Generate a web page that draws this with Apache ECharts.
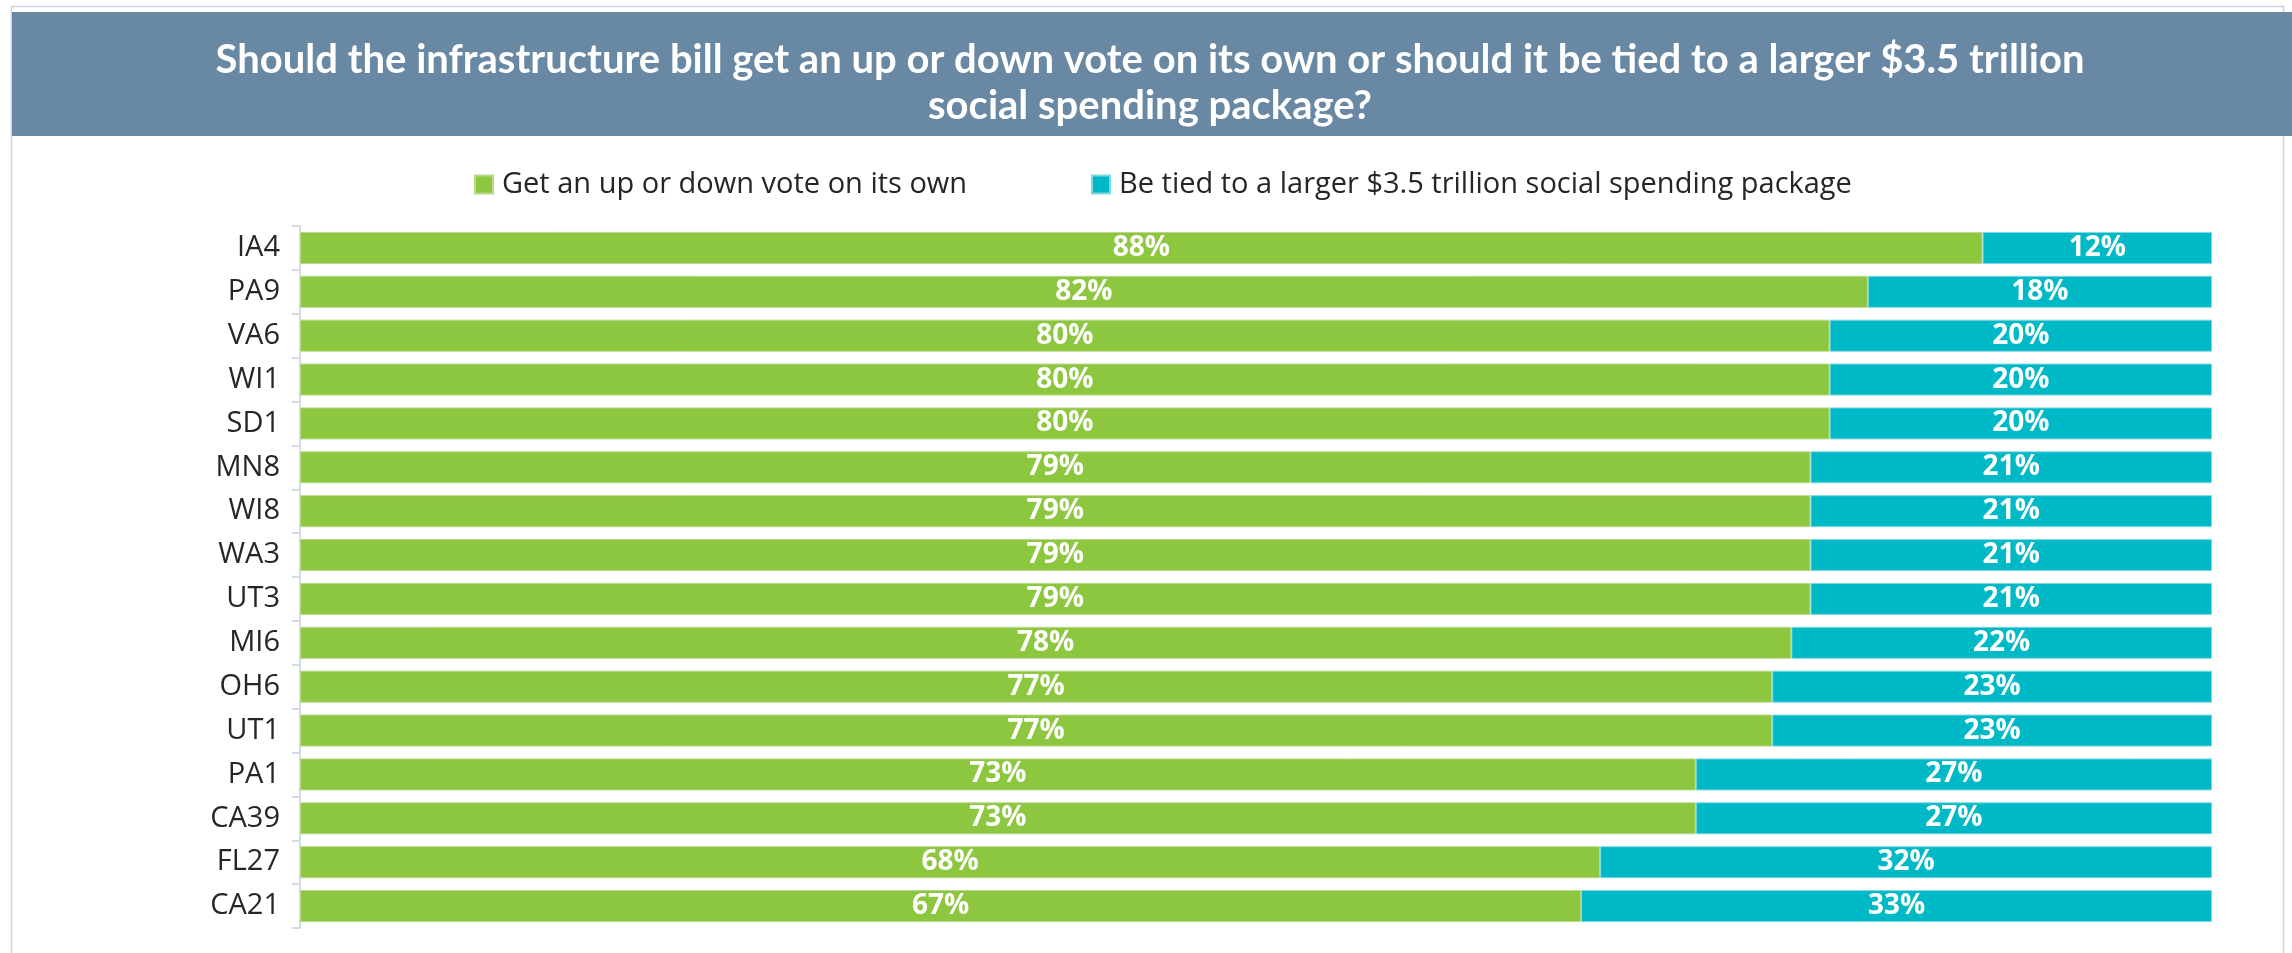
<!DOCTYPE html>
<html>
<head>
<meta charset="utf-8">
<title>Infrastructure bill vote</title>
<script src="https://cdn.jsdelivr.net/npm/echarts@6/dist/echarts.min.js"></script>
<style>
  html, body { margin: 0; padding: 0; background: #ffffff; }
  #chart { width: 2292px; height: 953px; }
</style>
</head>
<body>
<div id="chart"></div>
<script>
// Congressional districts, top to bottom
const districts = ['IA4', 'PA9', 'VA6', 'WI1', 'SD1', 'MN8', 'WI8', 'WA3', 'UT3', 'MI6', 'OH6', 'UT1', 'PA1', 'CA39', 'FL27', 'CA21'];

// Share of respondents (%) for each answer
const ownVote = [88, 82, 80, 80, 80, 79, 79, 79, 79, 78, 77, 77, 73, 73, 68, 67];
const tiedVote = [12, 18, 20, 20, 20, 21, 21, 21, 21, 22, 23, 23, 27, 27, 32, 33];

const seriesNames = ['Get an up or down vote on its own', 'Be tied to a larger $3.5 trillion social spending package'];
const titleText = 'Should the infrastructure bill get an up or down vote on its own or should it be tied to a larger $3.5 trillion\nsocial spending package?';

const GREEN = '#8DC63F';
const TEAL = '#00B9C6';
const TEXT_FONT = 'Open Sans';

const chart = echarts.init(document.getElementById('chart'), null, { renderer: 'canvas' });

const barLabel = {
  show: true,
  position: 'inside',
  formatter: '{c}%',
  color: '#ffffff',
  fontFamily: TEXT_FONT,
  fontWeight: 'bold',
  fontSize: 28
};

const legendText = { color: '#262626', fontFamily: TEXT_FONT, fontSize: 29, padding: [0, 0, 0, 4] };

chart.setOption({
  backgroundColor: '#ffffff',
  animation: false,
  graphic: [
    {
      type: 'rect',
      z: 0,
      shape: { x: 11.5, y: 6.5, width: 2272, height: 1000 },
      style: { fill: 'none', stroke: '#C9D4DF', lineWidth: 1.5 }
    },
    {
      type: 'rect',
      z: 1,
      shape: { x: 12, y: 12, width: 2280, height: 124 },
      style: { fill: '#6888A3' }
    },
    {
      type: 'text',
      z: 5,
      x: 1150,
      y: 37,
      style: {
        text: titleText,
        fill: '#ffffff',
        font: 'bold 40px Lato',
        textAlign: 'center',
        textVerticalAlign: 'top',
        lineHeight: 46
      }
    }
  ],
  legend: [
    {
      data: [seriesNames[0]],
      left: 469,
      top: 165,
      itemWidth: 18,
      itemHeight: 18,
      icon: 'rect',
      textStyle: legendText
    },
    {
      data: [seriesNames[1]],
      left: 1086,
      top: 165,
      itemWidth: 18,
      itemHeight: 18,
      icon: 'rect',
      textStyle: legendText
    }
  ],
  grid: { left: 300, right: 80, top: 226, bottom: 25, containLabel: false },
  xAxis: {
    type: 'value',
    min: 0,
    max: 100,
    show: false
  },
  yAxis: {
    type: 'category',
    inverse: true,
    data: districts,
    axisLine: { show: true, lineStyle: { color: '#D5DBE2', width: 2 } },
    axisTick: { show: true, length: 8, alignWithLabel: false, lineStyle: { color: '#D5DBE2', width: 2 } },
    axisLabel: { color: '#262626', fontFamily: TEXT_FONT, fontSize: 29, margin: 20 },
    splitLine: { show: false }
  },
  series: [
    {
      name: seriesNames[0],
      type: 'bar',
      stack: 'total',
      data: ownVote,
      barCategoryGap: '27%',
      itemStyle: { color: GREEN, borderColor: '#B9DA8C', borderWidth: 1 },
      label: barLabel
    },
    {
      name: seriesNames[1],
      type: 'bar',
      stack: 'total',
      data: tiedVote,
      barCategoryGap: '27%',
      itemStyle: { color: TEAL, borderColor: '#7FD9E0', borderWidth: 1 },
      label: barLabel
    }
  ]
});
</script>
</body>
</html>
